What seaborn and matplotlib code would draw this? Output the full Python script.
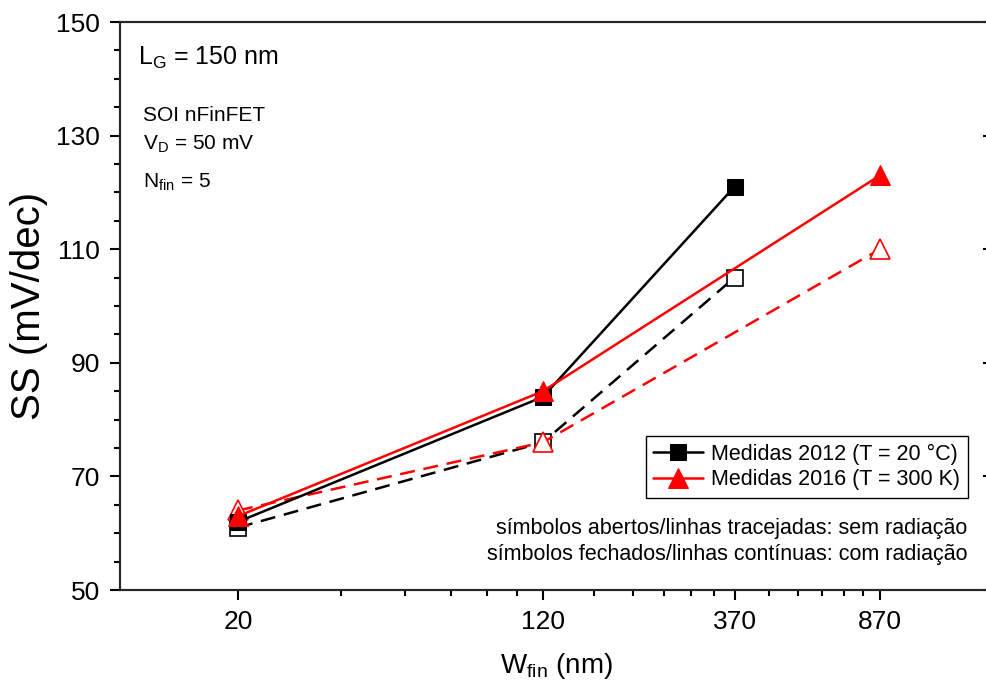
import matplotlib
matplotlib.use('Agg')
import matplotlib.pyplot as plt
import matplotlib.ticker as mticker
import seaborn as sns
import numpy as np
import pandas as pd

# dados
wfin_2012 = [20, 120, 370]
ss_2012_rad = [62, 84, 121]      # simbolos fechados / com radiacao
ss_2012_norad = [61, 76, 105]    # simbolos abertos / sem radiacao
wfin_2016 = [20, 120, 870]
ss_2016_rad = [63, 85, 123]
ss_2016_norad = [64, 76, 110]

xticks = [20, 120, 370, 870]
yticks = [50, 70, 90, 110, 130, 150]

sns.set_style('ticks')
plt.rcParams['font.family'] = ['Liberation Sans', 'DejaVu Sans']
plt.rcParams['mathtext.fontset'] = 'custom'
plt.rcParams['mathtext.rm'] = 'Liberation Sans'
plt.rcParams['mathtext.it'] = 'Liberation Sans'
plt.rcParams['text.color'] = 'black'
plt.rcParams['axes.labelcolor'] = 'black'
plt.rcParams['xtick.color'] = 'black'
plt.rcParams['ytick.color'] = 'black'

fig = plt.figure(figsize=(9.87, 6.86), dpi=100)
ax = fig.add_axes([120 / 987, 1 - 590 / 686, 873 / 987, 568 / 686])

d12 = pd.DataFrame({'w': wfin_2012, 'rad': ss_2012_rad, 'norad': ss_2012_norad})
d16 = pd.DataFrame({'w': wfin_2016, 'rad': ss_2016_rad, 'norad': ss_2016_norad})

lw = 1.8
dash = (0, (6, 3.5))
# sem radiacao (tracejado, aberto)
sns.lineplot(data=d12, x='w', y='norad', ax=ax, color='black', lw=lw,
             linestyle=dash, marker='s', markersize=11,
             markerfacecolor='white', markeredgecolor='black', markeredgewidth=1.2, zorder=2)
sns.lineplot(data=d16, x='w', y='norad', ax=ax, color='red', lw=lw,
             linestyle=dash, marker='^', markersize=15,
             markerfacecolor='white', markeredgecolor='red', markeredgewidth=1.2, zorder=3)
# com radiacao (continuo, fechado)
sns.lineplot(data=d12, x='w', y='rad', ax=ax, color='black', lw=lw,
             marker='s', markersize=11.5, markeredgecolor='black', zorder=4)
sns.lineplot(data=d16, x='w', y='rad', ax=ax, color='red', lw=lw,
             marker='^', markersize=15, markeredgecolor='red', zorder=5)

ax.set_xscale('log')
ax.set_xlim(10, 1690)
ax.set_ylim(50, 150)

ax.xaxis.set_major_locator(mticker.FixedLocator(xticks))
ax.xaxis.set_major_formatter(mticker.FixedFormatter([str(v) for v in xticks]))
minors = []
for a, b in zip(xticks[:-1], xticks[1:]):
    minors += list(np.linspace(a, b, 7)[1:-1])
ax.xaxis.set_minor_locator(mticker.FixedLocator(minors))
ax.xaxis.set_minor_formatter(mticker.NullFormatter())
ax.set_yticks(yticks)
ax.yaxis.set_minor_locator(mticker.MultipleLocator(5))

ax.tick_params(axis='both', which='major', length=7.5, width=1.5, labelsize=19, direction='out', pad=7)
ax.tick_params(axis='both', which='minor', length=4.5, width=1.5, direction='out')
for s in ax.spines.values():
    s.set_linewidth(1.5)

# ticks para dentro no eixo direito
ax2 = ax.twinx()
ax2.set_ylim(50, 150)
ax2.set_yticks(yticks)
ax2.tick_params(axis='y', direction='in', length=7.5, width=1.5, labelright=False)
ax2.yaxis.set_minor_locator(mticker.NullLocator())
for s in ax2.spines.values():
    s.set_linewidth(1.5)

ax.set_xlabel(r'W$_\mathrm{fin}$ (nm)', fontsize=20, labelpad=12)
ax.set_ylabel('SS (mV/dec)', fontsize=29, labelpad=6)

# textos
ax.text(0.021, 0.937, r'L$_\mathrm{G}$ = 150 nm', transform=ax.transAxes, fontsize=18, va='center')
ax.text(0.026, 0.836, 'SOI nFinFET', transform=ax.transAxes, fontsize=15, va='center')
ax.text(0.026, 0.785, r'V$_\mathrm{D}$ = 50 mV', transform=ax.transAxes, fontsize=15, va='center')
ax.text(0.026, 0.718, r'N$_\mathrm{fin}$ = 5', transform=ax.transAxes, fontsize=15, va='center')
ax.text(0.971, 0.109, 'símbolos abertos/linhas tracejadas: sem radiação',
        transform=ax.transAxes, fontsize=15.5, ha='right', va='center')
ax.text(0.971, 0.063, 'símbolos fechados/linhas contínuas: com radiação',
        transform=ax.transAxes, fontsize=15.5, ha='right', va='center')

h = ax.get_lines()
leg = ax.legend([h[2], h[3]], ['Medidas 2012 (T = 20 °C)', 'Medidas 2016 (T = 300 K)'],
                loc='upper right', bbox_to_anchor=(0.9714, 0.271), fontsize=15.5,
                frameon=True, fancybox=False, framealpha=1, edgecolor='black',
                handlelength=2.3, borderpad=0.35, labelspacing=0.2, handletextpad=0.4,
                borderaxespad=0)
leg.get_frame().set_linewidth(1.0)
leg.set_zorder(10)

fig.savefig('out.png', dpi=100)
